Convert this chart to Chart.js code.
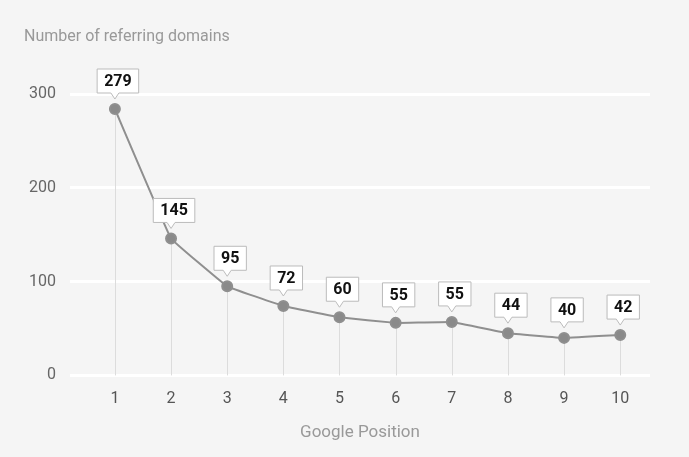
<!DOCTYPE html>
<html><head><meta charset="utf-8">
<script src="https://cdn.jsdelivr.net/npm/chart.js@4"></script>
<style>html,body{margin:0;padding:0;background:#f5f5f5;}#w{width:689px;height:457px;position:relative}</style>
</head><body><div id="w"><canvas id="c"></canvas></div>
<script>
const positions = [1,2,3,4,5,6,7,8,9,10];
const domains = [279,145,95,72,60,55,55,44,40,42];
const plotted = [284,146,95,74,62,56,57,45,40,43];
const yTicks = [0,100,200,300];

const dropLines = {id:'drop',beforeDatasetsDraw(ch){const c=ch.ctx,m=ch.getDatasetMeta(0),y0=ch.scales.y.getPixelForValue(0);
 c.save();c.strokeStyle='#dcdcdc';c.lineWidth=1;m.data.forEach(p=>{c.beginPath();c.moveTo(Math.round(p.x)+0.5,p.y);c.lineTo(Math.round(p.x)+0.5,y0);c.stroke();});c.restore();}};
const labels = {id:'lbl',afterDatasetsDraw(ch){const c=ch.ctx,m=ch.getDatasetMeta(0);c.save();
 c.font='bold 16px Roboto';c.textAlign='center';c.textBaseline='middle';
 m.data.forEach((p,i)=>{const t=String(domains[i]);const w=c.measureText(t).width+14,h=24;const x=p.x-w/2+3,y=p.y-40;
  c.fillStyle='#fff';c.strokeStyle='#bbb';c.lineWidth=1;c.beginPath();
  c.moveTo(x,y);c.lineTo(x+w,y);c.lineTo(x+w,y+h);c.lineTo(p.x+4,y+h);c.lineTo(p.x,y+h+6);c.lineTo(p.x-4,y+h);c.lineTo(x,y+h);c.closePath();c.fill();c.stroke();
  c.fillStyle='#111';c.fillText(t,x+w/2,y+h/2+1);});
 c.font='16px Roboto';c.fillStyle='#999';c.textAlign='left';c.fillText('Number of referring domains',24,37);
 c.restore();}};

new Chart(document.getElementById('c'),{type:'line',
 data:{datasets:[{data:positions.map((x,i)=>({x,y:plotted[i]})),borderColor:'#8f8f8f',backgroundColor:'#8a8a8a',borderWidth:2,pointRadius:5,pointHoverRadius:5,tension:0.05}]},
 options:{responsive:true,maintainAspectRatio:false,animation:false,
  layout:{padding:{top:94,right:39,left:15,bottom:10}},
  plugins:{legend:{display:false},tooltip:{enabled:false}},
  scales:{
   x:{type:'linear',min:0.2,max:10.53,grid:{display:false},border:{display:false},
      afterBuildTicks(a){a.ticks=positions.map(v=>({value:v}));},
      ticks:{color:'#555',font:{family:'Roboto',size:16},padding:6},
      title:{display:true,text:'Google Position',color:'#999',font:{family:'Roboto',size:17},padding:{top:8}}},
   y:{min:0,max:300,afterBuildTicks(a){a.ticks=yTicks.map(v=>({value:v}));},
      grid:{color:'#ffffff',lineWidth:3,drawTicks:false},border:{display:false},
      ticks:{color:'#666',font:{family:'Roboto',size:16},padding:14}}
  }},plugins:[dropLines,labels]});
</script></body></html>
